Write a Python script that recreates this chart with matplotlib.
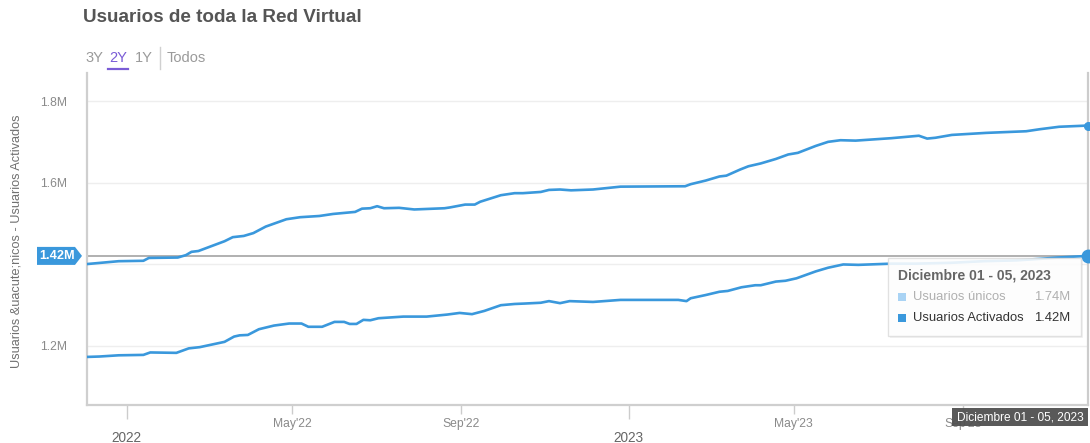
import matplotlib
matplotlib.use("Agg")
import matplotlib.pyplot as plt
import matplotlib.dates as mdates
from matplotlib.patches import Polygon, Rectangle
from matplotlib.lines import Line2D
import pandas as pd

plt.rcParams['font.family'] = ['Liberation Sans', 'DejaVu Sans']

# ---------------- data (values in millions) ----------------
unicos_dates = ["2021-12-03", "2021-12-26", "2022-01-13", "2022-01-17", "2022-02-07", "2022-02-13",
                "2022-02-17", "2022-02-22", "2022-03-13", "2022-03-19", "2022-03-27", "2022-04-03",
                "2022-04-12", "2022-04-27", "2022-05-07", "2022-05-21", "2022-05-31", "2022-06-16",
                "2022-06-21", "2022-06-27", "2022-07-02", "2022-07-07", "2022-07-18", "2022-07-29",
                "2022-08-20", "2022-08-24", "2022-09-04", "2022-09-11", "2022-09-15", "2022-09-30",
                "2022-10-10", "2022-10-16", "2022-10-29", "2022-11-04", "2022-11-12", "2022-11-20",
                "2022-12-06", "2022-12-26", "2023-02-11", "2023-02-15", "2023-02-26", "2023-03-08",
                "2023-03-13", "2023-03-23", "2023-03-29", "2023-04-07", "2023-04-18", "2023-04-27",
                "2023-05-04", "2023-05-17", "2023-05-26", "2023-06-04", "2023-06-15", "2023-07-11",
                "2023-07-31", "2023-08-06", "2023-08-12", "2023-08-24", "2023-09-18", "2023-10-17",
                "2023-10-27", "2023-11-10", "2023-12-01"]
unicos_vals = [1.400, 1.407, 1.408, 1.415, 1.416, 1.422, 1.430, 1.432, 1.456, 1.466, 1.469, 1.476,
               1.492, 1.510, 1.515, 1.518, 1.523, 1.528, 1.536, 1.537, 1.542, 1.537, 1.538, 1.534,
               1.537, 1.539, 1.546, 1.546, 1.553, 1.569, 1.574, 1.574, 1.577, 1.582, 1.583, 1.581,
               1.583, 1.590, 1.591, 1.596, 1.605, 1.615, 1.617, 1.632, 1.640, 1.647, 1.658, 1.669,
               1.673, 1.690, 1.700, 1.704, 1.703, 1.709, 1.715, 1.708, 1.710, 1.717, 1.722, 1.726,
               1.731, 1.737, 1.740]

activados_dates = ["2021-12-03", "2021-12-12", "2021-12-26", "2022-01-13", "2022-01-18", "2022-02-06",
                   "2022-02-15", "2022-02-23", "2022-03-13", "2022-03-20", "2022-03-24", "2022-03-30",
                   "2022-04-07", "2022-04-18", "2022-04-29", "2022-05-08", "2022-05-13", "2022-05-23",
                   "2022-06-01", "2022-06-08", "2022-06-12", "2022-06-17", "2022-06-22", "2022-06-27",
                   "2022-07-03", "2022-07-21", "2022-08-07", "2022-08-22", "2022-08-31", "2022-09-09",
                   "2022-09-18", "2022-09-30", "2022-10-10", "2022-10-17", "2022-10-29", "2022-11-04",
                   "2022-11-12", "2022-11-19", "2022-12-06", "2022-12-26", "2023-02-06", "2023-02-12",
                   "2023-02-15", "2023-02-26", "2023-03-08", "2023-03-14", "2023-03-24", "2023-04-03",
                   "2023-04-07", "2023-04-18", "2023-04-25", "2023-05-03", "2023-05-17", "2023-05-26",
                   "2023-06-06", "2023-06-17", "2023-07-11", "2023-07-29", "2023-08-23", "2023-09-16",
                   "2023-10-10", "2023-10-28", "2023-11-09", "2023-12-01"]
activados_vals = [1.172, 1.173, 1.176, 1.177, 1.183, 1.182, 1.193, 1.196, 1.209, 1.222, 1.225, 1.226,
                  1.240, 1.249, 1.254, 1.254, 1.246, 1.246, 1.258, 1.258, 1.253, 1.253, 1.263, 1.262,
                  1.267, 1.271, 1.271, 1.276, 1.280, 1.277, 1.285, 1.299, 1.302, 1.303, 1.305, 1.309,
                  1.304, 1.309, 1.307, 1.312, 1.312, 1.309, 1.316, 1.324, 1.332, 1.334, 1.343, 1.348,
                  1.348, 1.357, 1.359, 1.365, 1.382, 1.391, 1.399, 1.398, 1.401, 1.401, 1.403, 1.407,
                  1.409, 1.413, 1.416, 1.420]

y_ticks = [1.2, 1.4, 1.6, 1.8]
y_tick_labels = ["1.2M", "", "1.6M", "1.8M"]
year_ticks = ["2022-01-01", "2023-01-01"]
year_labels = ["2022", "2023"]
month_ticks = ["2022-05-01", "2022-09-01", "2023-05-01", "2023-09-01"]
month_labels = ["May'22", "Sep'22", "May'23", "Sep'23"]

title = "Usuarios de toda la Red Virtual"
y_label = "Usuarios &uacute;nicos - Usuarios Activados"
tooltip_title = "Diciembre 01 - 05, 2023"
series_names = ["Usuarios únicos", "Usuarios Activados"]
range_buttons = ["3Y", "2Y", "1Y"]

# ---------------- figure ----------------
W, H = 1090, 443
fig = plt.figure(figsize=(W / 100, H / 100), dpi=100)


def fx(x):
    return x / W


def fy(y):
    return 1 - y / H


BLUE = "#3a98dc"
LIGHT_BLUE = "#a9d3f4"

ax = fig.add_axes([fx(87), fy(405), fx(1088) - fx(87), fy(73) - fy(405)])

du = pd.to_datetime(unicos_dates)
da = pd.to_datetime(activados_dates)

ax.plot(du, unicos_vals, color=BLUE, lw=1.9, solid_joinstyle="round", zorder=3)
ax.plot(da, activados_vals, color=BLUE, lw=1.9, solid_joinstyle="round", zorder=3)

ax.set_xlim(du[0], du[-1])
ax.set_ylim(1.054, 1.869)

# grid and y ticks
ax.set_yticks(y_ticks)
ax.set_yticklabels(y_tick_labels)
ax.yaxis.grid(True, color="#eeeeee", lw=1)
ax.xaxis.grid(False)
ax.tick_params(axis="y", length=0, pad=14, labelsize=8.7, labelcolor="#8a8a8a")

# x ticks
ax.set_xticks(pd.to_datetime(year_ticks))
ax.set_xticklabels(year_labels)
ax.set_xticks(pd.to_datetime(month_ticks), minor=True)
ax.set_xticklabels(month_labels, minor=True)
ax.tick_params(axis="x", which="major", length=10, width=1, color="#cccccc",
               pad=8.5, labelsize=9.8, labelcolor="#666666")
ax.tick_params(axis="x", which="minor", length=6.5, width=1, color="#cccccc",
               pad=2.5, labelsize=8.7, labelcolor="#8a8a8a")

for s in ["top", "right"]:
    ax.spines[s].set_visible(False)
for s in ["left", "bottom"]:
    ax.spines[s].set_color("#cfcfcf")
    ax.spines[s].set_linewidth(1.6)

# crosshairs
ax.axhline(activados_vals[-1], color="#a3a3a3", lw=1.2, zorder=2)
ax.axvline(du[-1], color="#cccccc", lw=1.6, zorder=2, clip_on=False)

# end markers
ax.plot(du[-1], unicos_vals[-1], "o", ms=5.5, color=BLUE, clip_on=False, zorder=6)
ax.plot(da[-1], activados_vals[-1], "o", ms=9, color=BLUE, clip_on=False, zorder=6)

# ---------------- header ----------------
fig.text(fx(83), fy(18), title, fontsize=13.6, fontweight="bold", color="#555555",
         ha="left", va="center")
btn_x = [85, 109, 135]
for lbl, x in zip(range_buttons, btn_x):
    col = "#7a5cd6" if lbl == "2Y" else "#9a9a9a"
    fig.text(fx(x), fy(58), lbl, fontsize=10.5, color=col, ha="left", va="center")
fig.add_artist(Line2D([fx(108), fx(128)], [fy(69), fy(69)], color="#7a5cd6", lw=1.6))
fig.add_artist(Line2D([fx(160), fx(160)], [fy(47), fy(69)], color="#d0d0d0", lw=1))
fig.text(fx(167), fy(58), "Todos", fontsize=10.5, color="#9a9a9a", ha="left", va="center")

# y axis title
fig.text(fx(17), fy(241), y_label, rotation=90, fontsize=9.2, color="#707070",
         ha="center", va="center")

# ---------------- crosshair value tag on y axis ----------------
fig.canvas.draw()
yc_disp = ax.transData.transform((mdates.date2num(du[-1]), activados_vals[-1]))[1]
yc = fig.transFigure.inverted().transform((0, yc_disp))[1]
hh = 9 / H
tag = Polygon([(fx(37), yc + hh), (fx(75), yc + hh), (fx(82), yc), (fx(75), yc - hh),
               (fx(37), yc - hh)], closed=True, facecolor=BLUE, edgecolor="none",
              transform=fig.transFigure, zorder=5)
fig.add_artist(tag)
fig.text(fx(57.5), yc, f"{activados_vals[-1]:.2f}M", fontsize=9.2, fontweight="bold",
         color="white", ha="center", va="center", zorder=6)

# ---------------- tooltip ----------------
shadow = Rectangle((fx(890), fy(338)), fx(1081) - fx(888), fy(258) - fy(336),
                   transform=fig.transFigure, facecolor="#000000", alpha=0.05,
                   edgecolor="none", zorder=7)
fig.add_artist(shadow)
box = Rectangle((fx(888), fy(336)), fx(1081) - fx(888), fy(258) - fy(336),
                transform=fig.transFigure, facecolor="white", alpha=0.88,
                edgecolor="#dddddd", lw=1, zorder=8)
fig.add_artist(box)
fig.text(fx(898), fy(275), tooltip_title, fontsize=10, fontweight="bold", color="#666666",
         ha="left", va="center", zorder=9)
rows = [(series_names[0], unicos_vals[-1], LIGHT_BLUE, "#b0b0b0", 297),
        (series_names[1], activados_vals[-1], BLUE, "#333333", 318)]
for name, val, sq, tc, y in rows:
    fig.add_artist(Rectangle((fx(898), fy(y + 4)), fx(8), 8 / H, transform=fig.transFigure,
                             facecolor=sq, edgecolor="none", zorder=9))
    fig.text(fx(913), fy(y), name, fontsize=9.4, color=tc, ha="left", va="center", zorder=9)
    fig.text(fx(1070), fy(y), f"{val:.2f}M", fontsize=9.4, color=tc, ha="right",
             va="center", zorder=9)

# ---------------- crosshair label on x axis ----------------
fig.add_artist(Rectangle((fx(952), fy(426)), fx(1088) - fx(952), 18 / H,
                         transform=fig.transFigure, facecolor="#505050", alpha=0.95,
                         edgecolor="none", zorder=8))
fig.text(fx(1020), fy(417), tooltip_title, fontsize=8.6, color="white",
         ha="center", va="center", zorder=9)

fig.savefig("out.png", dpi=100)
